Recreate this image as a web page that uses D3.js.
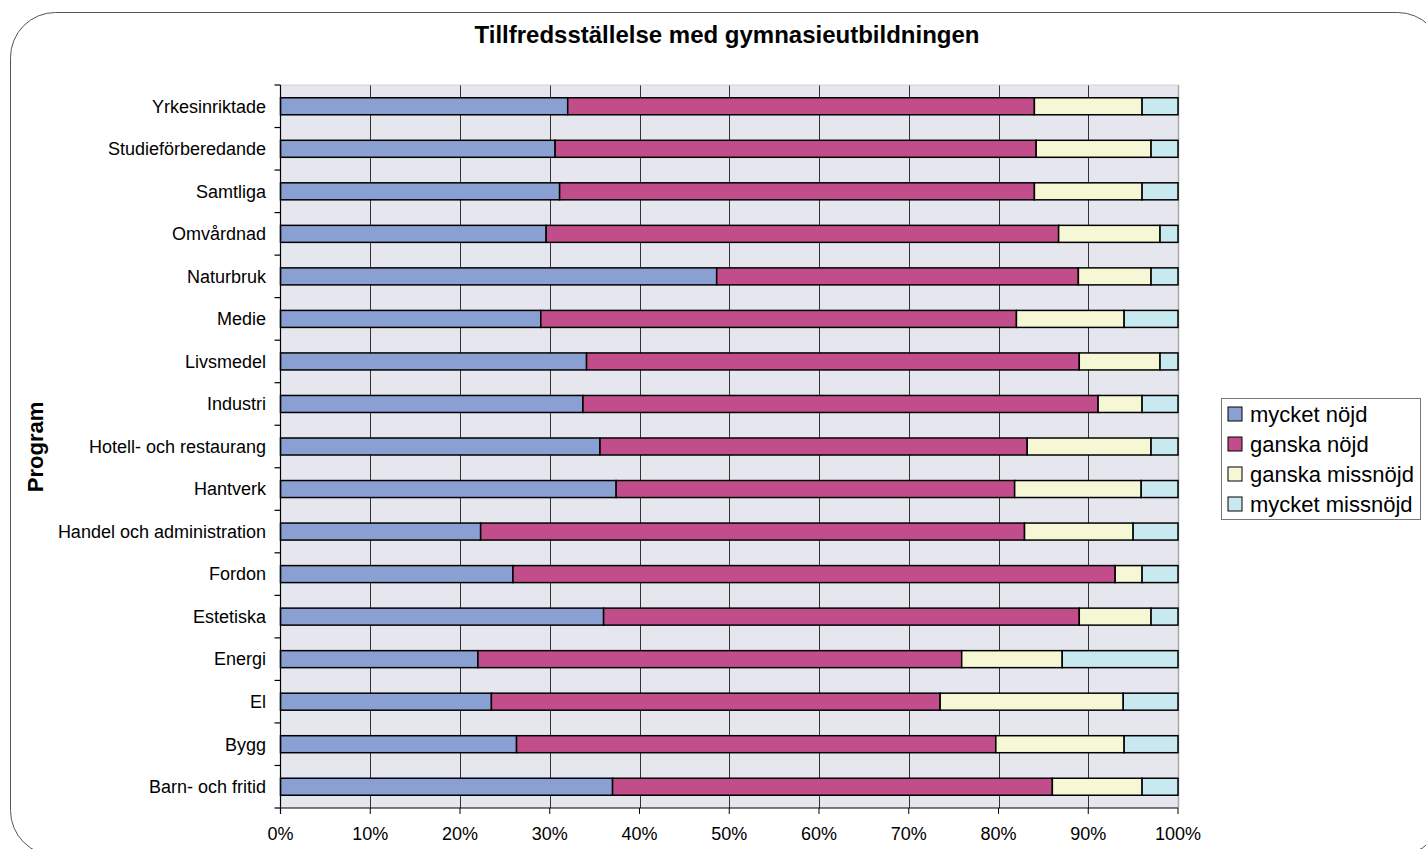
<!DOCTYPE html>
<html>
<head>
<meta charset="utf-8">
<script src="https://cdn.jsdelivr.net/npm/d3@7"></script>
<style>
  body { margin: 0; background: #fff; }
  svg { display: block; font-family: Arial, "Liberation Sans", sans-serif; }
</style>
</head>
<body>
<script>
// data (percent shares per program)
const programs = ['Yrkesinriktade', 'Studieförberedande', 'Samtliga', 'Omvårdnad', 'Naturbruk', 'Medie',
    'Livsmedel', 'Industri', 'Hotell- och restaurang', 'Hantverk', 'Handel och administration', 'Fordon',
    'Estetiska', 'Energi', 'El', 'Bygg', 'Barn- och fritid'];
const seriesNames = ['mycket nöjd', 'ganska nöjd', 'ganska missnöjd', 'mycket missnöjd'];
const mycketNojd = [32.0, 30.6, 31.1, 29.6, 48.6, 29.0, 34.1, 33.7, 35.6, 37.4, 22.3, 25.9, 36.0, 22.0, 23.5, 26.3, 37.0];
const ganskaNojd = [52.0, 53.6, 52.9, 57.1, 40.3, 53.0, 54.9, 57.4, 47.6, 44.4, 60.6, 67.1, 53.0, 53.9, 50.0, 53.4, 49.0];
const ganskaMissnojd = [12.0, 12.8, 12.0, 11.3, 8.1, 12.0, 9.0, 4.9, 13.8, 14.1, 12.1, 3.0, 8.0, 11.2, 20.4, 14.3, 10.0];
const mycketMissnojd = [4.0, 3.0, 4.0, 2.0, 3.0, 6.0, 2.0, 4.0, 3.0, 4.1, 5.0, 4.0, 3.0, 12.9, 6.1, 6.0, 4.0];
const xTicks = [0, 10, 20, 30, 40, 50, 60, 70, 80, 90, 100];

const colors = ['#8aa0d2', '#c24d8b', '#f6f7d5', '#c9e9f0'];

const width = 1426, height = 849;
const plot = { left: 280.5, right: 1178, top: 85, bottom: 808 };

const svg = d3.select('body').append('svg')
    .attr('width', width)
    .attr('height', height);

// rounded outer frame
svg.append('rect')
    .attr('x', 10.5).attr('y', 12.5)
    .attr('width', 1432).attr('height', 843)
    .attr('rx', 45).attr('ry', 45)
    .attr('fill', 'none').attr('stroke', '#555').attr('stroke-width', 1);

// title
svg.append('text')
    .attr('x', 727).attr('y', 43)
    .attr('text-anchor', 'middle')
    .attr('font-size', 24).attr('font-weight', 'bold')
    .text('Tillfredsställelse med gymnasieutbildningen');

// y axis title
svg.append('text')
    .attr('transform', 'translate(43,447) rotate(-90)')
    .attr('text-anchor', 'middle')
    .attr('font-size', 22).attr('font-weight', 'bold')
    .text('Program');

const xscale = d3.scaleLinear().domain([0, 100]).range([plot.left, plot.right]);
const yscale = d3.scaleBand().domain(programs).range([plot.top, plot.bottom]).paddingInner(0.6).paddingOuter(0.3);
const bandStep = (plot.bottom - plot.top) / programs.length;

// plot background
svg.append('rect')
    .attr('x', plot.left).attr('y', plot.top)
    .attr('width', plot.right - plot.left).attr('height', plot.bottom - plot.top)
    .attr('fill', '#e6e7ee');

// vertical gridlines
svg.append('g').selectAll('line').data(xTicks.slice(1, -1)).join('line')
    .attr('x1', (d) => Math.round(xscale(d)) + 0.5).attr('x2', (d) => Math.round(xscale(d)) + 0.5)
    .attr('y1', plot.top).attr('y2', plot.bottom)
    .attr('stroke', '#333').attr('stroke-width', 1);

// right edge of plot area
svg.append('line')
    .attr('x1', plot.right + 0.5).attr('x2', plot.right + 0.5)
    .attr('y1', plot.top).attr('y2', plot.bottom)
    .attr('stroke', '#a8a8a8').attr('stroke-width', 1.5);
svg.append('line')
    .attr('x1', plot.left).attr('x2', plot.right)
    .attr('y1', plot.top).attr('y2', plot.top)
    .attr('stroke', '#d0d0d6').attr('stroke-width', 1);

// stacked data
const rows = programs.map((p, i) => ({
    program: p,
    values: [mycketNojd[i], ganskaNojd[i], ganskaMissnojd[i], mycketMissnojd[i]]
}));
const segments = [];
rows.forEach((r) => {
    let acc = 0;
    r.values.forEach((v, k) => {
        segments.push({ program: r.program, k: k, x0: acc, x1: acc + v });
        acc += v;
    });
});

svg.append('g').selectAll('rect').data(segments).join('rect')
    .attr('x', (d) => xscale(d.x0))
    .attr('width', (d) => xscale(d.x1) - xscale(d.x0))
    .attr('y', (d) => yscale(d.program) + (yscale.bandwidth() - 17) / 2)
    .attr('height', 17)
    .attr('fill', (d) => colors[d.k])
    .attr('stroke', '#000').attr('stroke-width', 1.5);

// left axis (ticks at band boundaries)
const yAxisG = svg.append('g');
yAxisG.append('line')
    .attr('x1', plot.left).attr('x2', plot.left)
    .attr('y1', plot.top).attr('y2', plot.bottom + 6)
    .attr('stroke', '#000').attr('stroke-width', 1.2);
yAxisG.selectAll('line.tick').data(d3.range(programs.length + 1)).join('line')
    .attr('class', 'tick')
    .attr('x1', plot.left - 6).attr('x2', plot.left)
    .attr('y1', (i) => plot.top + i * bandStep).attr('y2', (i) => plot.top + i * bandStep)
    .attr('stroke', '#000').attr('stroke-width', 1.2);
yAxisG.selectAll('text').data(programs).join('text')
    .attr('x', 266)
    .attr('y', (d) => yscale(d) + yscale.bandwidth() / 2)
    .attr('dy', '0.35em')
    .attr('text-anchor', 'end')
    .attr('font-size', 18)
    .text((d) => d);

// bottom axis
const xAxisG = svg.append('g');
xAxisG.append('line')
    .attr('x1', plot.left).attr('x2', plot.right)
    .attr('y1', plot.bottom).attr('y2', plot.bottom)
    .attr('stroke', '#000').attr('stroke-width', 1.2);
xAxisG.selectAll('line.tick').data(xTicks).join('line')
    .attr('class', 'tick')
    .attr('x1', (d) => xscale(d)).attr('x2', (d) => xscale(d))
    .attr('y1', plot.bottom).attr('y2', plot.bottom + 6)
    .attr('stroke', '#000').attr('stroke-width', 1);
xAxisG.selectAll('text').data(xTicks).join('text')
    .attr('x', (d) => xscale(d))
    .attr('y', 840)
    .attr('text-anchor', 'middle')
    .attr('font-size', 18)
    .text((d) => d + '%');

// legend
const legend = svg.append('g').attr('transform', 'translate(1221,398)');
legend.append('rect')
    .attr('x', 0.5).attr('y', 0.5).attr('width', 199).attr('height', 121)
    .attr('fill', '#fff').attr('stroke', '#777').attr('stroke-width', 1);
const items = legend.selectAll('g').data(seriesNames).join('g')
    .attr('transform', (d, i) => `translate(7,${9 + i * 30})`);
items.append('rect')
    .attr('width', 14).attr('height', 14)
    .attr('fill', (d, i) => colors[i])
    .attr('stroke', '#000').attr('stroke-width', 1);
items.append('text')
    .attr('x', 22).attr('y', 7)
    .attr('dy', '0.35em')
    .attr('font-size', 22)
    .text((d) => d);
</script>
</body>
</html>
